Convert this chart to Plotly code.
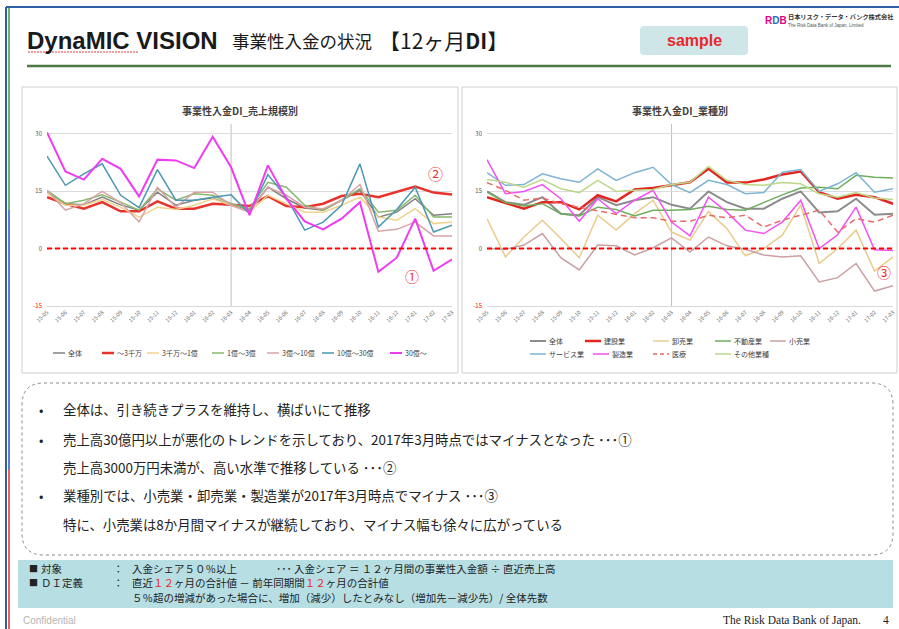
import plotly.graph_objects as go

W, H = 899, 629
def px(x): return x / W
def py(y): return 1 - y / H

months = ["15-05", "15-06", "15-07", "15-08", "15-09", "15-10", "15-11", "15-12",
          "16-01", "16-02", "16-03", "16-04", "16-05", "16-06", "16-07", "16-08",
          "16-09", "16-10", "16-11", "16-12", "17-01", "17-02", "17-03"]
divider_month = "16-03"

# ---- chart 1: by sales size ----
size_names = ["全体", "～3千万", "3千万～1億", "1億～3億", "3億～10億", "10億～30億", "30億～"]
size_all     = [14.9, 11.7, 11.4, 13.4, 11.4, 10.0, 14.7, 11.3, 12.6, 13.2, 11.3, 10.0, 16.0, 13.0, 10.6, 10.0, 12.6, 15.2, 8.2, 9.5, 13.0, 8.7, 9.1]
size_u30m    = [13.4, 11.7, 10.4, 12.1, 9.7, 9.7, 12.3, 10.4, 10.4, 11.7, 11.4, 11.1, 13.7, 11.1, 10.8, 11.7, 13.7, 14.3, 13.4, 14.7, 16.2, 14.6, 14.1]
size_30m_1b  = [14.3, 11.3, 11.3, 12.8, 10.8, 8.2, 10.8, 10.2, 11.3, 13.0, 11.3, 9.5, 13.9, 11.7, 9.5, 9.5, 11.3, 13.4, 8.2, 7.4, 10.4, 6.5, 6.9]
size_1b_3b   = [15.2, 11.7, 12.6, 14.0, 12.1, 10.0, 15.6, 12.6, 14.3, 13.9, 11.7, 10.4, 17.3, 16.0, 11.3, 10.0, 12.6, 15.6, 9.5, 10.0, 13.9, 8.2, 8.2]
size_3b_10b  = [15.2, 10.0, 11.7, 14.9, 12.0, 6.9, 16.0, 10.8, 14.7, 14.7, 11.3, 9.5, 16.0, 13.9, 10.8, 10.4, 12.6, 16.7, 4.5, 5.0, 6.9, 3.3, 3.3]
size_10b_30b = [24.1, 16.5, 19.5, 22.1, 13.9, 10.7, 20.6, 12.6, 12.6, 13.4, 14.0, 9.1, 19.3, 13.4, 4.8, 6.9, 11.3, 22.1, 5.6, 10.2, 16.0, 4.3, 6.1]
size_o30b    = [30.3, 20.1, 18.0, 23.4, 20.8, 13.6, 23.2, 23.0, 21.0, 29.2, 21.2, 8.7, 21.7, 13.0, 7.1, 5.0, 7.8, 12.1, -6.1, -2.4, 7.8, -5.8, -2.8]
size_series = [size_all, size_u30m, size_30m_1b, size_1b_3b, size_3b_10b, size_10b_30b, size_o30b]
size_colors = ["#808080", "#e8332c", "#f0d48c", "#86b96e", "#d9a3a8", "#4b97b4", "#f03cf0"]
size_widths = [1.5, 2.5, 1.5, 1.5, 1.5, 1.5, 2.0]

# ---- chart 2: by industry ----
ind_names = ["全体", "建設業", "卸売業", "不動産業", "小売業", "サービス業", "製造業", "医療", "その他業種"]
ind_all    = [14.9, 12.1, 11.4, 13.4, 9.1, 8.7, 13.4, 11.3, 12.6, 13.4, 11.4, 10.4, 14.9, 12.1, 10.4, 10.4, 13.0, 14.9, 9.4, 9.7, 13.0, 8.8, 9.1]
ind_const  = [13.4, 12.0, 10.4, 12.1, 12.1, 10.2, 13.9, 12.3, 15.4, 15.8, 16.5, 17.3, 20.8, 17.2, 17.2, 18.0, 19.3, 20.1, 14.7, 13.0, 14.0, 13.4, 11.7]
ind_whole  = [7.8, -2.2, 3.0, 7.4, 2.6, -2.4, 8.7, 4.8, 9.1, 12.6, 4.3, 2.2, 9.7, 5.2, -1.9, 0.0, 3.5, 11.3, -3.9, 0.0, 4.8, -5.9, -2.2]
ind_real   = [14.7, 12.0, 11.1, 11.7, 9.1, 8.5, 10.8, 10.2, 8.5, 10.0, 10.0, 10.2, 11.0, 10.2, 10.0, 12.1, 14.0, 15.8, 16.0, 15.6, 19.1, 18.6, 18.4]
ind_retail = [0.0, -0.2, 0.9, 3.9, -2.4, -5.6, 0.9, 0.7, -1.7, 0.2, 2.8, -0.9, 3.0, 0.7, -0.2, -1.7, -2.2, -1.9, -8.7, -7.6, -3.9, -11.1, -9.7]
ind_serv   = [19.8, 16.5, 16.7, 19.5, 18.2, 17.3, 20.8, 17.8, 19.8, 21.2, 16.7, 14.6, 17.8, 16.7, 14.3, 14.6, 19.9, 20.6, 14.9, 16.9, 19.8, 14.7, 15.6]
ind_mfg    = [23.2, 14.3, 14.9, 16.7, 13.0, 7.1, 13.0, 9.1, 12.6, 15.2, 6.9, 3.3, 13.4, 9.5, 4.8, 3.9, 6.9, 12.6, 0.0, 3.6, 10.8, -0.3, -0.5]
ind_med    = [17.2, 15.2, 12.6, 13.2, 11.7, 10.8, 10.0, 9.1, 8.0, 8.0, 7.1, 7.1, 8.7, 8.0, 8.7, 5.6, 7.4, 8.7, 10.0, 4.3, 7.8, 6.9, 8.7]
ind_other  = [18.0, 17.3, 16.0, 18.0, 15.6, 14.6, 17.8, 14.9, 15.2, 15.4, 16.7, 17.3, 21.4, 17.8, 16.7, 16.5, 17.2, 16.9, 14.3, 13.4, 14.6, 13.2, 12.8]
ind_series = [ind_all, ind_const, ind_whole, ind_real, ind_retail, ind_serv, ind_mfg, ind_med, ind_other]
ind_colors = ["#8c8c8c", "#e3261f", "#ebcb8b", "#6fae5c", "#c9a0a3", "#7db4d2", "#f550f5", "#e86a6a", "#bcd88a"]
ind_widths = [2.0, 2.5, 1.5, 1.5, 1.5, 1.5, 1.5, 1.5, 1.5]
ind_dash = ["solid"] * 7 + ["6px,4px", "solid"]

y_ticks = [-15, 0, 15, 30]
y_ticktext = ["<span style='color:#ff0000'>-15</span>", "0", "15", "30"]

JP = "Noto Sans CJK JP, Liberation Sans, sans-serif"

fig = go.Figure()
for name, vals, col, w in zip(size_names, size_series, size_colors, size_widths):
    fig.add_trace(go.Scatter(x=months, y=vals, name=name, mode="lines",
                             line=dict(color=col, width=w), showlegend=False,
                             xaxis="x", yaxis="y"))
for name, vals, col, w, d in zip(ind_names, ind_series, ind_colors, ind_widths, ind_dash):
    fig.add_trace(go.Scatter(x=months, y=vals, name=name, mode="lines",
                             line=dict(color=col, width=w, dash=d), showlegend=False,
                             xaxis="x2", yaxis="y2"))

ydom = [py(306), py(124)]
axis_common_x = dict(type="category", tickangle=-45, showgrid=False, showline=True,
                     linecolor="#d9d9d9", linewidth=1, ticks="", automargin=False,
                     tickfont=dict(size=5.5, color="#6e6e6e", family=JP), fixedrange=True)
axis_common_y = dict(range=[-15, 32.5], tickvals=y_ticks, ticktext=y_ticktext,
                     showgrid=True, gridcolor="#dcdcdc", gridwidth=1, zeroline=False,
                     showline=False, ticks="", automargin=False,
                     tickfont=dict(size=6, color="#555555", family=JP),
                     ticklabelstandoff=4, fixedrange=True)
fig.update_layout(
    xaxis=dict(domain=[px(47), px(452)], anchor="y", **axis_common_x),
    yaxis=dict(domain=ydom, anchor="x", **axis_common_y),
    xaxis2=dict(domain=[px(487), px(893)], anchor="y2", **axis_common_x),
    yaxis2=dict(domain=ydom, anchor="x2", **axis_common_y),
)

shapes = []
annos = []

# slide frame lines
shapes.append(dict(type="line", xref="paper", yref="paper", x0=px(6), x1=1, y0=py(7), y1=py(7),
                   line=dict(color="#2f5fa6", width=2)))
shapes.append(dict(type="line", xref="paper", yref="paper", x0=px(6), x1=px(6), y0=py(7), y1=0,
                   line=dict(color="#2f5fa6", width=2)))
shapes.append(dict(type="line", xref="paper", yref="paper", x0=px(9), x1=px(9), y0=py(8), y1=py(210),
                   line=dict(color="#3c9a3c", width=1.5)))
shapes.append(dict(type="line", xref="paper", yref="paper", x0=px(9), x1=px(9), y0=py(210), y1=py(470),
                   line=dict(color="#3050b0", width=1.5)))
shapes.append(dict(type="line", xref="paper", yref="paper", x0=px(9), x1=px(9), y0=py(470), y1=0,
                   line=dict(color="#e03030", width=1.5)))

# title underline (green)
shapes.append(dict(type="line", xref="paper", yref="paper", x0=px(27), x1=px(891), y0=py(66), y1=py(66),
                   line=dict(color="#4d7a45", width=2.5)))
# spellcheck squiggle under DynaMIC
shapes.append(dict(type="line", xref="paper", yref="paper", x0=px(28), x1=px(139), y0=py(52), y1=py(52),
                   line=dict(color="#e04040", width=1, dash="2px,1px")))

def rrect(x0, y0, x1, y1, r):
    rx, ry = r / W, r / H
    X0, X1, Y0, Y1 = px(x0), px(x1), py(y1), py(y0)
    return (f"M{X0+rx},{Y1} L{X1-rx},{Y1} Q{X1},{Y1} {X1},{Y1-ry} "
            f"L{X1},{Y0+ry} Q{X1},{Y0} {X1-rx},{Y0} L{X0+rx},{Y0} "
            f"Q{X0},{Y0} {X0},{Y0+ry} L{X0},{Y1-ry} Q{X0},{Y1} {X0+rx},{Y1} Z")

# sample box
shapes.append(dict(type="path", xref="paper", yref="paper", path=rrect(640, 26, 748, 55, 4),
                   fillcolor="#cfe6e9", line=dict(width=0), layer="below"))

# chart panels
for x0, x1 in [(22, 458), (462, 897)]:
    shapes.append(dict(type="rect", xref="paper", yref="paper", x0=px(x0), x1=px(x1), y0=py(373), y1=py(87),
                       line=dict(color="#cfcfcf", width=1), fillcolor="white", layer="below"))

# zero dashed lines and divider lines
for xa, ya in [("x", "y"), ("x2", "y2")]:
    shapes.append(dict(type="line", xref=f"{xa} domain", yref=ya, x0=0, x1=1, y0=0, y1=0,
                       line=dict(color="#ff0000", width=2, dash="5px,3px"), layer="above"))
    shapes.append(dict(type="line", xref=xa, yref=f"{ya} domain", x0=divider_month, x1=divider_month,
                       y0=0, y1=1, line=dict(color="#bfbfbf", width=1), layer="below"))

# dashed rounded comment box
shapes.append(dict(type="path", xref="paper", yref="paper", path=rrect(22, 383, 893, 555, 22),
                   line=dict(color="#8a8a8a", width=1, dash="dot"), fillcolor="white", layer="below"))
# teal definitions box
shapes.append(dict(type="rect", xref="paper", yref="paper", x0=px(18), x1=px(893), y0=py(608), y1=py(560),
                   fillcolor="#b6dee3", line=dict(width=0), layer="below"))

def text(x, y, s, size, color="#222222", anchor="left", family=JP, yanchor="middle"):
    annos.append(dict(xref="paper", yref="paper", x=px(x), y=py(y), text=s, showarrow=False,
                      xanchor=anchor, yanchor=yanchor, borderpad=0,
                      font=dict(size=size, color=color, family=family)))

# title
text(26, 40, "<b>DynaMIC VISION</b>", 24, color="#1a1a1a", family="Liberation Sans, Noto Sans CJK JP")
text(231, 40, "事業性入金の状況", 17.5, color="#1a1a1a")
text(378, 40, "【12ヶ月<b>DI</b>】", 21, color="#1a1a1a", family="Noto Sans CJK JP, Liberation Sans")
text(694, 40, "<b>sample</b>", 16, color="#e8282b", anchor="center", family="Liberation Sans, sans-serif")
# logo
text(764, 21, "<b><span style='color:#e4007f'>R</span><span style='color:#1d6fb8'>D</span><span style='color:#e4007f'>B</span></b>",
     10, family="Liberation Sans")
text(787, 17, "<b>日本リスク・データ・バンク株式会社</b>", 6.2, color="#333333")
text(787, 26, "The Risk Data Bank of Japan, Limited", 4.5, color="#555555", family="Liberation Sans")

# chart titles
text(240, 110, "<b>事業性入金DI_売上規模別</b>", 10, color="#404040", anchor="center")
text(680, 110, "<b>事業性入金DI_業種別</b>", 10, color="#404040", anchor="center")

# manual legends
def legend_item(x0, y, ln, col, w, dash, label):
    shapes.append(dict(type="line", xref="paper", yref="paper", x0=px(x0), x1=px(x0 + ln), y0=py(y), y1=py(y),
                       line=dict(color=col, width=w, dash=dash)))
    text(x0 + ln + 2, y, label, 7, color="#404040")

left_leg_x = [53, 102, 147, 212, 267, 322, 390]
for i, (n, c, w) in enumerate(zip(size_names, size_colors, size_widths)):
    legend_item(left_leg_x[i], 353, 12, c, w, "solid", n)

right_leg_pos = [(530, 341), (585, 341), (653, 341), (715, 341), (770, 341),
                 (530, 354), (593, 354), (653, 354), (715, 354)]
for (x0, y), n, c, w, d in zip(right_leg_pos, ind_names, ind_colors, ind_widths, ind_dash):
    legend_item(x0, y, 16, c, w, "4px,3px" if d != "solid" else d, n)

# circled markers
text(435, 173, "②", 15, color="#f03030", anchor="center")
text(412, 276, "①", 14, color="#f03030", anchor="center")
text(884, 272, "③", 14, color="#f03030", anchor="center")

# comment bullets
bx, tx = 41, 62
FS = 13.4
text(bx, 409, "•", 13, color="#222222", anchor="center")
text(tx, 409, "全体は、引き続きプラスを維持し、横ばいにて推移", FS)
text(bx, 439, "•", 13, color="#222222", anchor="center")
text(tx, 439, "売上高30億円以上が悪化のトレンドを示しており、2017年3月時点ではマイナスとなった ･･･①", FS)
text(tx, 467, "売上高3000万円未満が、高い水準で推移している ･･･②", FS)
text(bx, 495, "•", 13, color="#222222", anchor="center")
text(tx, 495, "業種別では、小売業・卸売業・製造業が2017年3月時点でマイナス ･･･③", FS)
text(tx, 524, "特に、小売業は8か月間マイナスが継続しており、マイナス幅も徐々に広がっている", FS)

# definitions
text(28, 568, "■", 9, color="#222222")
text(40, 568, "対象", 10.5)
text(112, 568, "：", 10.5)
text(131, 568, "入金シェア５０％以上", 10.5)
text(275, 568, "･･･ 入金シェア ＝ １２ヶ月間の事業性入金額 ÷ 直近売上高", 10.5)
text(28, 582, "■", 9, color="#222222")
text(40, 582, "ＤＩ定義", 10.5)
text(112, 582, "：", 10.5)
text(131, 582, "直近<span style='color:#e8282b'>１２</span>ヶ月の合計値 － 前年同期間<span style='color:#e8282b'>１２</span>ヶ月の合計値", 10.5)
text(131, 597, "５％超の増減があった場合に、増加（減少）したとみなし（増加先－減少先）/ 全体先数", 10.5)

# footer
text(22, 620, "Confidential", 10, color="#b5b5b5", family="Liberation Sans")
text(862, 620, "The Risk Data Bank of Japan.", 11.5, color="#222222", anchor="right", family="Liberation Serif")
text(890, 620, "4", 11.5, color="#222222", anchor="right", family="Liberation Serif")

fig.update_layout(
    width=W, height=H, autosize=False,
    margin=dict(l=0, r=0, t=0, b=0, pad=0, autoexpand=False),
    paper_bgcolor="white", plot_bgcolor="rgba(0,0,0,0)",
    shapes=shapes, annotations=annos, showlegend=False,
    font=dict(family=JP),
)

fig.write_html("out.html", config={"displayModeBar": False},
               post_script="document.body.style.margin='0px';document.body.style.overflow='hidden';")
